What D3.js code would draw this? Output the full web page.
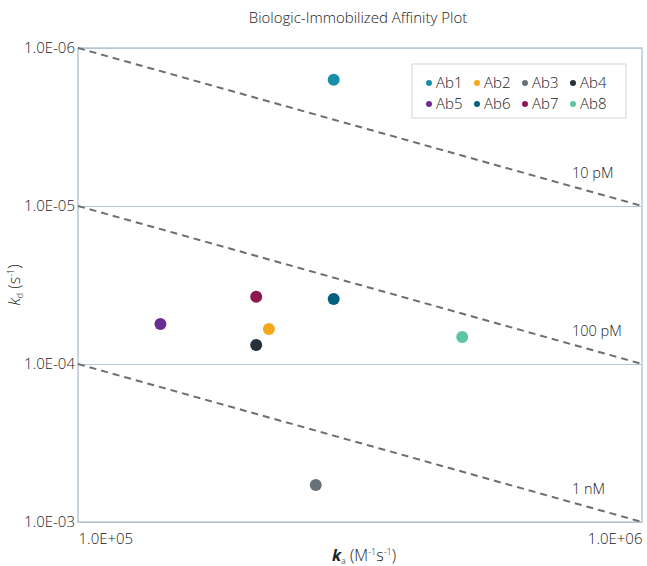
<!DOCTYPE html>
<html><head><meta charset="utf-8">
<script src="https://cdn.jsdelivr.net/npm/d3@7"></script>
<style>
body{margin:0;background:#fff;}
text{font-family:"Open Sans", Lato, sans-serif;fill:#222;font-weight:300;}
</style></head>
<body><svg id="c" width="647" height="566"></svg>
<script>
const names = ["Ab1","Ab2","Ab3","Ab4","Ab5","Ab6","Ab7","Ab8"];
const kaValues = [2.84e5, 2.18e5, 2.64e5, 2.07e5, 1.40e5, 2.84e5, 2.07e5, 4.80e5];
const kdValues = [1.59e-6, 6.0e-5, 5.83e-4, 7.59e-5, 5.58e-5, 3.88e-5, 3.75e-5, 6.75e-5];
const colors = ["#1690a8","#f5a81c","#687177","#25313b","#6a2d91","#00607f","#8c1850","#5cc6a3"];
const isoKD = [1e-11, 1e-10, 1e-9];
const isoLabels = ["10 pM","100 pM","1 nM"];
const xTicks = [1e5, 1e6];
const yTicks = [1e-6, 1e-5, 1e-4, 1e-3];
const xTickLabels = ["1.0E+05","1.0E+06"];
const yTickLabels = ["1.0E-06","1.0E-05","1.0E-04","1.0E-03"];

const svg = d3.select("#c");
const L = 78, R = 642, T = 48, B = 522;
const x = d3.scaleLog().domain([1e5, 1e6]).range([L, R]);
const y = d3.scaleLog().domain([1e-6, 1e-3]).range([T, B]);
const gridColor = "#b6c6d3";
const FONT = '"Open Sans", Lato, sans-serif';
const TXT = "#222";

svg.append("text").attr("x", 358).attr("y", 23).attr("text-anchor","middle")
  .style("font-size","15px").text("Biologic-Immobilized Affinity Plot");

// gridlines
const gy = svg.append("g").attr("transform", `translate(${L},0)`)
  .call(d3.axisLeft(y).tickValues(yTicks).tickSize(-(R-L)).tickFormat((d,i)=>yTickLabels[i]).tickPadding(3));
gy.select(".domain").remove();
gy.selectAll("line").attr("stroke", gridColor).attr("stroke-width",1.2);
gy.selectAll("text").style("font-size","15px").style("fill",TXT).style("font-weight","300").attr("font-family",FONT);

const gx = svg.append("g").attr("transform", `translate(0,${B})`)
  .call(d3.axisBottom(x).tickValues(xTicks).tickSize(0).tickFormat((d,i)=>xTickLabels[i]).tickPadding(11));
gx.select(".domain").remove();
gx.selectAll("text").style("font-size","15px").style("fill",TXT).style("font-weight","300").attr("font-family",FONT)
  .attr("text-anchor",(d,i)=> i===0 ? "start" : "end");

// border
svg.append("rect").attr("x",L).attr("y",T).attr("width",R-L).attr("height",B-T)
  .attr("fill","none").attr("stroke",gridColor).attr("stroke-width",1.5);

// iso lines
isoKD.forEach((kd,i)=>{
  svg.append("line")
    .attr("x1", x(1e5)).attr("y1", y(kd*1e5))
    .attr("x2", x(1e6)).attr("y2", y(kd*1e6))
    .attr("stroke","#6b6e72").attr("stroke-width",2).attr("stroke-dasharray","7,5");
  svg.append("text").attr("x", 572).attr("y", y(kd*1e6) - 28)
    .style("font-size","14.5px").text(isoLabels[i]);
});

// points
svg.append("g").selectAll("circle").data(names).join("circle")
  .attr("cx",(d,i)=>x(kaValues[i])).attr("cy",(d,i)=>y(kdValues[i]))
  .attr("r",6).attr("fill",(d,i)=>colors[i]);

// legend
svg.append("rect").attr("x",412).attr("y",64).attr("width",214).attr("height",54)
  .attr("fill","#fff").attr("stroke","#cfd6dc").attr("stroke-width",1);
const lg = svg.append("g").selectAll("g").data(names).join("g")
  .attr("transform",(d,i)=>`translate(${429 + (i%4)*48},${i<4?83:104})`);
lg.append("circle").attr("r",3).attr("fill",(d,i)=>colors[i]);
lg.append("text").attr("x",7).attr("y",5).style("font-size","15px").text(d=>d);

// axis titles
const xt = svg.append("text").attr("x", 364).attr("y", 561).attr("text-anchor","middle").style("font-size","16px");
xt.append("tspan").style("font-style","italic").style("font-weight","bold").text("k");
xt.append("tspan").style("font-size","9px").attr("dy",3).text("a");
xt.append("tspan").attr("dy",-3).text(" (M");
xt.append("tspan").style("font-size","9px").attr("dy",-6).text("-1");
xt.append("tspan").attr("dy",6).text("s");
xt.append("tspan").style("font-size","9px").attr("dy",-6).text("-1");
xt.append("tspan").attr("dy",6).text(")");

const yt = svg.append("text").attr("transform","translate(20,285) rotate(-90)").attr("text-anchor","middle").style("font-size","16px");
yt.append("tspan").style("font-style","italic").text("k");
yt.append("tspan").style("font-size","9px").attr("dy",3).text("d");
yt.append("tspan").attr("dy",-3).text(" (s");
yt.append("tspan").style("font-size","9px").attr("dy",-6).text("-1");
yt.append("tspan").attr("dy",6).text(")");
</script></body></html>
